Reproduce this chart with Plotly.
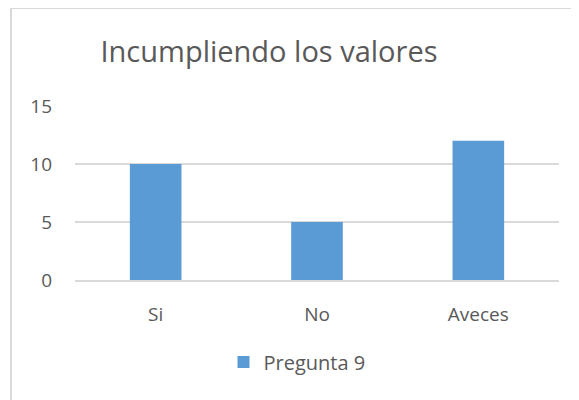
import plotly.graph_objects as go

# Data
categories = ["Si", "No", "Aveces"]
values = [10, 5, 12]
series_name = "Pregunta 9"

# the page body adds an 8px offset, so the figure is drawn 8px smaller
OFF = 8
W, H = 579 - OFF, 400 - OFF
BLUE = "#5b9bd5"
GRID = "#d9d9d9"
TXT = "#595959"
FONT = "Open Sans"

L, R, T, B = 75 - OFF, 579 - 559, 106 - OFF, 400 - 280
PW, PH = W - L - R, H - T - B

fig = go.Figure(go.Bar(
    x=categories, y=values,
    name=series_name,
    marker=dict(color=BLUE, line=dict(width=0)),
    showlegend=True,
))

fig.update_layout(
    width=W, height=H,
    paper_bgcolor="white", plot_bgcolor="white",
    margin=dict(l=L, r=R, t=T, b=B),
    bargap=0.68,
    font=dict(family=FONT, color=TXT),
    title=dict(text="Incumpliendo los valores", x=(269 - OFF) / W, xanchor="center",
               y=1 - (52 - OFF) / H, yanchor="middle",
               font=dict(family=FONT, size=29, color=TXT)),
    legend=dict(orientation="h", x=(297 - 75) / PW, xanchor="center",
                y=(280 - 362) / PH, yanchor="middle", font=dict(size=20, color=TXT),
                itemwidth=30, bgcolor="rgba(0,0,0,0)"),
)

fig.update_yaxes(range=[0, 15], dtick=5, showgrid=True, gridcolor=GRID, gridwidth=1.5,
                 zeroline=False, showline=False, tickfont=dict(size=19, color=TXT),
                 ticks="", ticklabelstandoff=22, fixedrange=True)
fig.update_xaxes(showgrid=False, showline=True, linecolor=GRID, linewidth=1.5,
                 ticks="outside", ticklen=16, tickcolor="rgba(0,0,0,0)",
                 tickfont=dict(size=19, color=TXT), fixedrange=True)

# chart border: only the top and left edges are inside the picture
fig.add_shape(type="rect", xref="paper", yref="paper",
              x0=(11 - 75) / PW, x1=(620 - 75) / PW,
              y0=(280 - 440) / PH, y1=(280 - 8) / PH,
              line=dict(color=GRID, width=2), fillcolor="rgba(0,0,0,0)", layer="below")

fig.write_html("out.html")
